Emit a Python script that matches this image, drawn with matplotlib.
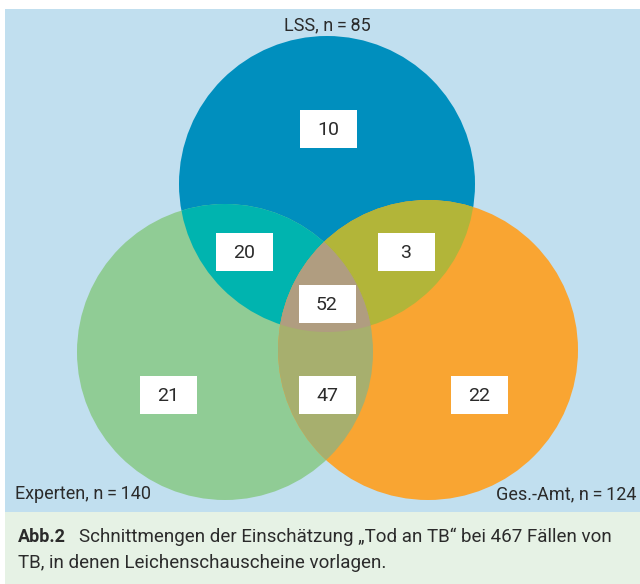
import numpy as np
import matplotlib
matplotlib.use("Agg")
import matplotlib.pyplot as plt
from matplotlib.patches import Circle, Rectangle, Polygon
from matplotlib import font_manager

# ---- data ----
set_names = ["LSS", "Experten", "Ges.-Amt"]
set_totals = [85, 140, 124]
region_keys = ["L", "LE", "LG", "LEG", "E", "EG", "G"]
region_values = [10, 20, 3, 52, 21, 47, 22]
caption_bold = "Abb.2"
caption_line1 = "Schnittmengen der Einschätzung „Tod an TB“ bei 467 Fällen von"
caption_line2 = "TB, in denen Leichenschauscheine vorlagen."

# ---- fonts ----
avail = {f.name for f in font_manager.fontManager.ttflist}
fam = "DejaVu Sans"
for cand in ["Roboto", "Lato", "Open Sans"]:
    if cand in avail:
        fam = cand
        break
plt.rcParams["font.family"] = [fam, "DejaVu Sans"]

# ---- colours ----
bg_blue = "#C1DFEF"
cap_bg = "#E6F2E5"
col_L, col_E, col_G = "#008FBE", "#90CC95", "#F9A532"
col_LE, col_LG, col_EG = "#00B4AF", "#B2B539", "#A7AF6E"
col_LEG = "#B09D80"
txt = "#2b2b2b"

# ---- geometry (pixels) ----
centers = {"L": (327, 184), "E": (225, 352), "G": (428, 350)}
radii = {"L": 148, "E": 148, "G": 150}
box_pos = {"L": (328, 129), "LE": (244, 252), "LG": (406, 252), "LEG": (327, 304),
           "E": (168, 395), "EG": (327, 395), "G": (479, 395)}
box_w, box_h = 57, 38

fig = plt.figure(figsize=(6.4, 5.84), dpi=100)
fig.patch.set_facecolor("white")
ax = fig.add_axes([0, 0, 1, 1])
ax.set_xlim(0, 640)
ax.set_ylim(584, 0)
ax.axis("off")

ax.add_patch(Rectangle((5, 9), 640, 503, facecolor=bg_blue, edgecolor="none", zorder=0))
ax.add_patch(Rectangle((5, 512), 640, 80, facecolor=cap_bg, edgecolor="none", zorder=0))

def circ(k, color, z):
    c = Circle(centers[k], radii[k], facecolor=color, edgecolor="none", zorder=z)
    ax.add_patch(c)
    return c

circ("L", col_L, 1)
circ("E", col_E, 1)
circ("G", col_G, 1)

def pair(a, b, color):
    clip = Circle(centers[b], radii[b], transform=ax.transData, facecolor="none")
    p = circ(a, color, 2)
    p.set_clip_path(clip)

pair("L", "E", col_LE)
pair("L", "G", col_LG)
pair("E", "G", col_EG)

# triple region: convex intersection of the three circles
def inside(pt, k):
    cx, cy = centers[k]
    return (pt[0] - cx) ** 2 + (pt[1] - cy) ** 2 <= radii[k] ** 2 + 1e-6

pts = []
t = np.linspace(0, 2 * np.pi, 2000)
for k in centers:
    cx, cy = centers[k]
    for a in t:
        p = (cx + radii[k] * np.cos(a), cy + radii[k] * np.sin(a))
        if all(inside(p, o) for o in centers if o != k):
            pts.append(p)
pts = np.array(pts)
c0 = pts.mean(axis=0)
order = np.argsort(np.arctan2(pts[:, 1] - c0[1], pts[:, 0] - c0[0]))
ax.add_patch(Polygon(pts[order], closed=True, facecolor=col_LEG, edgecolor="none", zorder=3))

# value boxes
for k, v in zip(region_keys, region_values):
    x, y = box_pos[k]
    ax.add_patch(Rectangle((x - box_w / 2, y - box_h / 2), box_w, box_h,
                           facecolor="white", edgecolor="none", zorder=4))
    ax.text(x, y + 1, str(v), ha="center", va="center", fontsize=14, color=txt, zorder=5)

# set labels
ax.text(327, 25, f"{set_names[0]}, n\u2009=\u2009{set_totals[0]}", ha="center", va="center",
        fontsize=13, color=txt)
ax.text(15, 494, f"{set_names[1]}, n\u2009=\u2009{set_totals[1]}", ha="left", va="center",
        fontsize=13, color=txt)
ax.text(637, 494, f"{set_names[2]}, n\u2009=\u2009{set_totals[2]}", ha="right", va="center",
        fontsize=13, color=txt)

# caption
ax.text(18, 537, caption_bold, ha="left", va="center", fontsize=13, fontweight="bold", color=txt)
ax.text(79, 537, caption_line1, ha="left", va="center", fontsize=13.5, color=txt)
ax.text(18, 563, caption_line2, ha="left", va="center", fontsize=13.5, color=txt)

fig.savefig("out.png", dpi=100)
